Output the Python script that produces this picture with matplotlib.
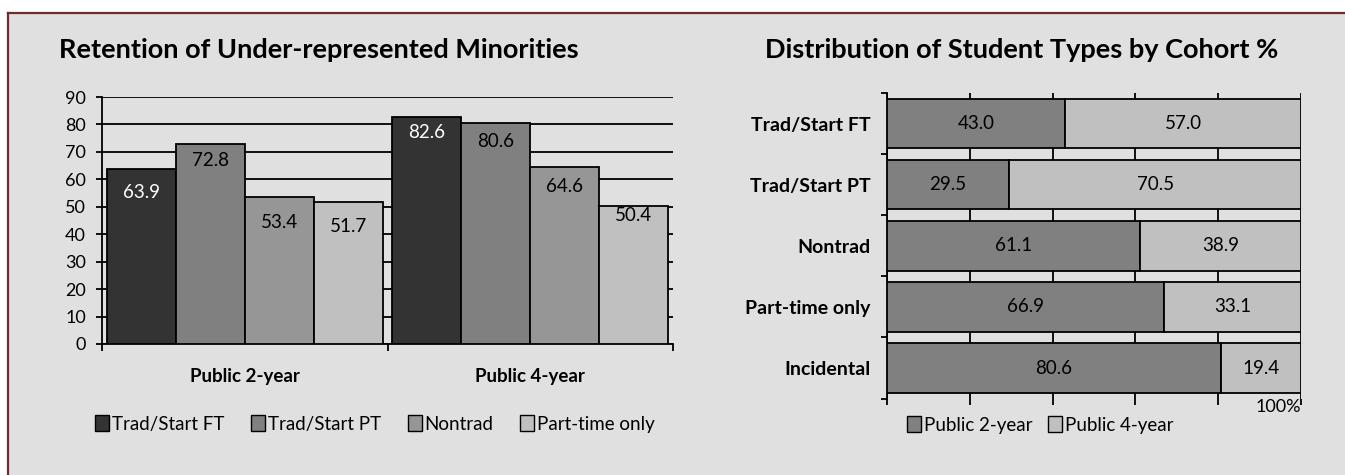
import matplotlib
matplotlib.use("Agg")
import matplotlib.pyplot as plt
import numpy as np
from matplotlib.patches import Rectangle, Patch
from matplotlib.lines import Line2D

plt.rcParams['font.family'] = ['Lato', 'DejaVu Sans']

# Dados - gráfico da esquerda (retenção)
grupos = ["Public 2-year", "Public 4-year"]
series = ["Trad/Start FT", "Trad/Start PT", "Nontrad", "Part-time only"]
trad_ft = [63.9, 82.6]
trad_pt = [72.8, 80.6]
nontrad = [53.4, 64.6]
part_time = [51.7, 50.4]

# Dados - gráfico da direita (distribuição %)
coortes = ["Trad/Start FT", "Trad/Start PT", "Nontrad", "Part-time only", "Incidental"]
publica_2 = [43.0, 29.5, 61.1, 66.9, 80.6]
publica_4 = [57.0, 70.5, 38.9, 33.1, 19.4]

W, H = 1345, 475
fig = plt.figure(figsize=(W / 100, H / 100), dpi=100)
fig.patch.set_facecolor('white')

# fundo cinza e moldura
fig.patches.append(Rectangle((8 / W, 0), 1, 1 - 13 / H, transform=fig.transFigure,
                             facecolor='#e0e0e0', edgecolor='none', zorder=-10))
borda = '#6e2d2d'
fig.lines.append(Line2D([8 / W, 1], [1 - 13 / H, 1 - 13 / H], transform=fig.transFigure, color=borda, lw=1.6))
fig.lines.append(Line2D([8 / W, 8 / W], [0, 1 - 13 / H], transform=fig.transFigure, color=borda, lw=1.6))

cores = ['#333333', '#808080', '#969696', '#c0c0c0']
lw = 1.3
fs_tit = 19.5
fs_num = 13.5

# ---------- gráfico da esquerda ----------
ax1 = fig.add_axes([102 / W, 1 - 344 / H, 571 / W, 247 / H])
ax1.set_facecolor('none')
x = np.arange(len(grupos))
w = 0.2415
deslocamentos = [[24, 15], [16, 19], [25, 20], [24, 10]]  # ajuste dos rótulos (px abaixo do topo)
for i, vals in enumerate([trad_ft, trad_pt, nontrad, part_time]):
    pos = x + (i - 1.5) * w
    ax1.bar(pos, vals, w, color=cores[i], edgecolor='black', linewidth=lw, label=series[i], zorder=3)
    for j, v in enumerate(vals):
        ax1.annotate(f"{v:.1f}", (pos[j], v), xytext=(0, -deslocamentos[i][j] * 0.72),
                     textcoords='offset points', ha='center', va='center', fontsize=fs_num,
                     color='white' if i == 0 else 'black', zorder=4)

ax1.set_xlim(-0.5, 1.5)
ax1.set_ylim(0, 90)
ax1.set_yticks(range(0, 91, 10))
ax1.grid(axis='y', color='black', linewidth=lw, zorder=0)
ax1.set_axisbelow(True)
for s in ['top', 'right']:
    ax1.spines[s].set_visible(False)
for s in ['left', 'bottom']:
    ax1.spines[s].set_linewidth(lw)
ax1.set_xticks([-0.5, 0.5, 1.5])
ax1.set_xticklabels([])
ax1.set_xticks(x, minor=True)
ax1.set_xticklabels(grupos, minor=True, fontweight='bold', fontsize=13.5)
ax1.tick_params(axis='x', which='major', length=5, width=lw)
ax1.tick_params(axis='x', which='minor', length=0, pad=17)
ax1.tick_params(axis='y', length=4.5, width=lw, labelsize=13, pad=7)

fig.text(59 / W, 1 - 50 / H, "Retention of Under-represented Minorities",
         fontsize=fs_tit, fontweight='bold', ha='left', va='center')

h1 = [Patch(facecolor=c, edgecolor='black', linewidth=1) for c in cores]
fig.legend(h1, series, loc='center', bbox_to_anchor=(375 / W, 1 - 424 / H), ncol=4,
           frameon=False, fontsize=13.5, handlelength=0.75, handleheight=0.9,
           handletextpad=0.16, columnspacing=1.4)

# ---------- gráfico da direita ----------
ax2 = fig.add_axes([887 / W, 1 - 398.6 / H, 414 / W, 305.6 / H])
ax2.set_facecolor('none')
y = np.arange(len(coortes))
hb = 0.81
ax2.barh(y, publica_2, hb, color='#808080', edgecolor='black', linewidth=lw, zorder=3)
ax2.barh(y, publica_4, hb, left=publica_2, color='#c0c0c0', edgecolor='black', linewidth=lw, zorder=3)
for i in range(len(coortes)):
    ax2.text(publica_2[i] / 2, y[i], f"{publica_2[i]:.1f}", ha='center', va='center', fontsize=fs_num, zorder=4)
    ax2.text(publica_2[i] + publica_4[i] / 2, y[i], f"{publica_4[i]:.1f}", ha='center', va='center',
             fontsize=fs_num, zorder=4)

ax2.set_xlim(0, 100)
ax2.set_ylim(4.5, -0.5)
ax2.set_xticks([0, 20, 40, 60, 80, 100])
ax2.set_xticklabels(['', '', '', '', '', '100%'], fontsize=13)
ax2.get_xticklabels()[-1].set_horizontalalignment('right')
ax2.grid(axis='x', color='black', linewidth=lw, zorder=0)
ax2.set_axisbelow(True)
for s in ['top', 'right', 'bottom']:
    ax2.spines[s].set_visible(False)
ax2.spines['left'].set_linewidth(lw)
ax2.set_yticks(np.arange(-0.5, 5, 1))
ax2.set_yticklabels([])
ax2.set_yticks(y, minor=True)
ax2.set_yticklabels(coortes, minor=True, fontweight='bold', fontsize=14)
ax2.tick_params(axis='y', which='major', length=4.5, width=lw)
ax2.tick_params(axis='y', which='minor', length=0, pad=12)
ax2.tick_params(axis='x', length=4, width=lw, pad=-3.5)

fig.text(765 / W, 1 - 50 / H, "Distribution of Student Types by Cohort %",
         fontsize=fs_tit, fontweight='bold', ha='left', va='center')

h2 = [Patch(facecolor=c, edgecolor='black', linewidth=1) for c in ['#808080', '#c0c0c0']]
fig.legend(h2, ["Public 2-year", "Public 4-year"], loc='center', bbox_to_anchor=(1040 / W, 1 - 425 / H),
           ncol=2, frameon=False, fontsize=13.5, handlelength=0.75, handleheight=0.9,
           handletextpad=0.16, columnspacing=0.8)

fig.savefig("out.png", dpi=100)
